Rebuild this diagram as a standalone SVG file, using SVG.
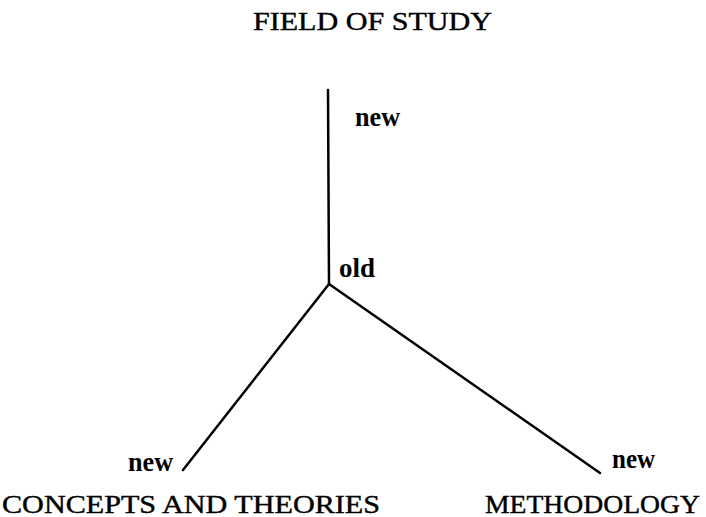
<svg xmlns="http://www.w3.org/2000/svg" width="706" height="517" viewBox="0 0 706 517">
<style>
text{font-family:"Liberation Serif","Times New Roman",serif;font-size:25px;fill:#000}
.c{stroke:#000;stroke-width:0.4}
.b{font-weight:bold;font-size:27px}
line{stroke:#000;stroke-width:2.5;stroke-linecap:round}
</style>
<rect width="706" height="517" fill="#fff"/>
<g id="title"><text class="c" x="253" y="30" textLength="239" lengthAdjust="spacingAndGlyphs">FIELD OF STUDY</text></g>
<g id="connectors">
<line x1="328" y1="90" x2="329" y2="284"/>
<line x1="329" y1="284" x2="183" y2="470"/>
<line x1="329" y1="284" x2="600" y2="473"/>
</g>
<g id="top"><text class="b" x="355" y="126" textLength="45" lengthAdjust="spacingAndGlyphs">new</text></g>
<g id="center"><text class="b" x="339" y="277" textLength="36" lengthAdjust="spacingAndGlyphs">old</text></g>
<g id="left"><text class="b" x="128" y="471" textLength="45" lengthAdjust="spacingAndGlyphs">new</text>
<text class="c" x="2" y="513" textLength="378" lengthAdjust="spacingAndGlyphs">CONCEPTS AND THEORIES</text></g>
<g id="right"><text class="b" x="612" y="468" textLength="43" lengthAdjust="spacingAndGlyphs">new</text>
<text class="c" x="485" y="513" textLength="215" lengthAdjust="spacingAndGlyphs">METHODOLOGY</text></g>
</svg>
